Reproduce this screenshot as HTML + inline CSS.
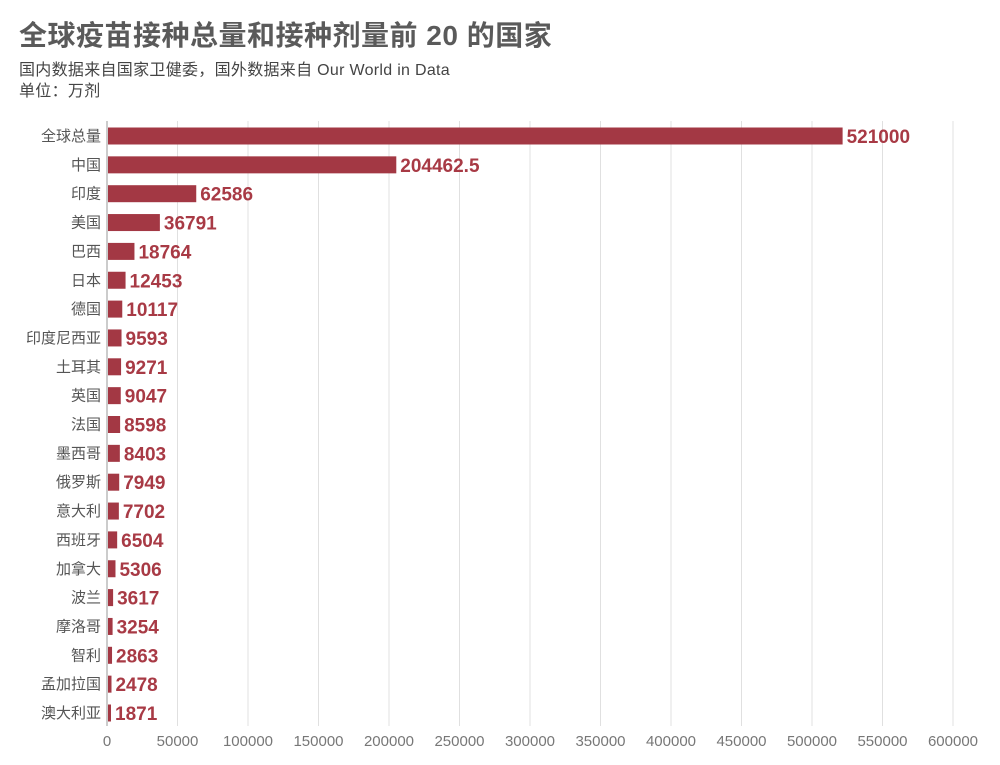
<!DOCTYPE html>
<html><head><meta charset="utf-8"><style>
body{margin:0;background:#fff;font-family:"Liberation Sans","Noto Sans CJK SC",sans-serif}
#title{position:absolute;left:19px;top:14px;font-size:28px;font-weight:bold;color:#5a5a5a;letter-spacing:0.5px}
#sub{position:absolute;left:19px;top:60px;font-size:16px;color:#444;line-height:21px;letter-spacing:0.3px}
</style></head><body>
<div id="title">全球疫苗接种总量和接种剂量前 20 的国家</div>
<div id="sub">国内数据来自国家卫健委，国外数据来自 Our World in Data<br>单位：万剂</div>
<svg id="chart" width="1000" height="765" style="position:absolute;left:0;top:0"></svg>
<script>
const categories=["全球总量","中国","印度","美国","巴西","日本","德国","印度尼西亚","土耳其","英国","法国","墨西哥","俄罗斯","意大利","西班牙","加拿大","波兰","摩洛哥","智利","孟加拉国","澳大利亚"];
const values=[521000,204462.5,62586,36791,18764,12453,10117,9593,9271,9047,8598,8403,7949,7702,6504,5306,3617,3254,2863,2478,1871];
const valueLabels=["521000","204462.5","62586","36791","18764","12453","10117","9593","9271","9047","8598","8403","7949","7702","6504","5306","3617","3254","2863","2478","1871"];
const ticks=[0,50000,100000,150000,200000,250000,300000,350000,400000,450000,500000,550000,600000];
const NS="http://www.w3.org/2000/svg";
const svg=document.getElementById('chart');
const x0=107,x1=953,vmax=600000;
const xs=v=>x0+v/vmax*(x1-x0);
const y0=136,step=28.85;
const ys=i=>y0+i*step;
function mk(t,a){const e=document.createElementNS(NS,t);for(const k in a)e.setAttribute(k,a[k]);svg.appendChild(e);return e;}
ticks.forEach((t,i)=>{
  if(i>0){const g=mk('line',{x1:xs(t),x2:xs(t),y1:121,y2:726,stroke:'#e0e0e0','stroke-width':1});
  
  }
  const l=mk('text',{x:xs(t),y:746,'text-anchor':'middle','font-size':15,fill:'#777'});
  l.textContent=t;
  
  
});
const ax=mk('line',{x1:x0,x2:x0,y1:121,y2:726,stroke:'#999','stroke-width':1});


categories.forEach((c,i)=>{
  const y=ys(i);
  const w=Math.max(3,xs(values[i])-x0);
  const b=mk('rect',{x:x0+1,y:y-8.5,width:w,height:17,fill:'#a33844'});
  
  
  const cl=mk('text',{x:101,y:y+5,'text-anchor':'end','font-size':15,fill:'#555'});
  cl.textContent=c;
  
  
  const vl=mk('text',{x:x0+1+w+4,y:y+7,'font-size':19,'font-weight':'bold',fill:'#a83a45'});
  vl.textContent=valueLabels[i];
  
  
});
</script>
</body></html>
